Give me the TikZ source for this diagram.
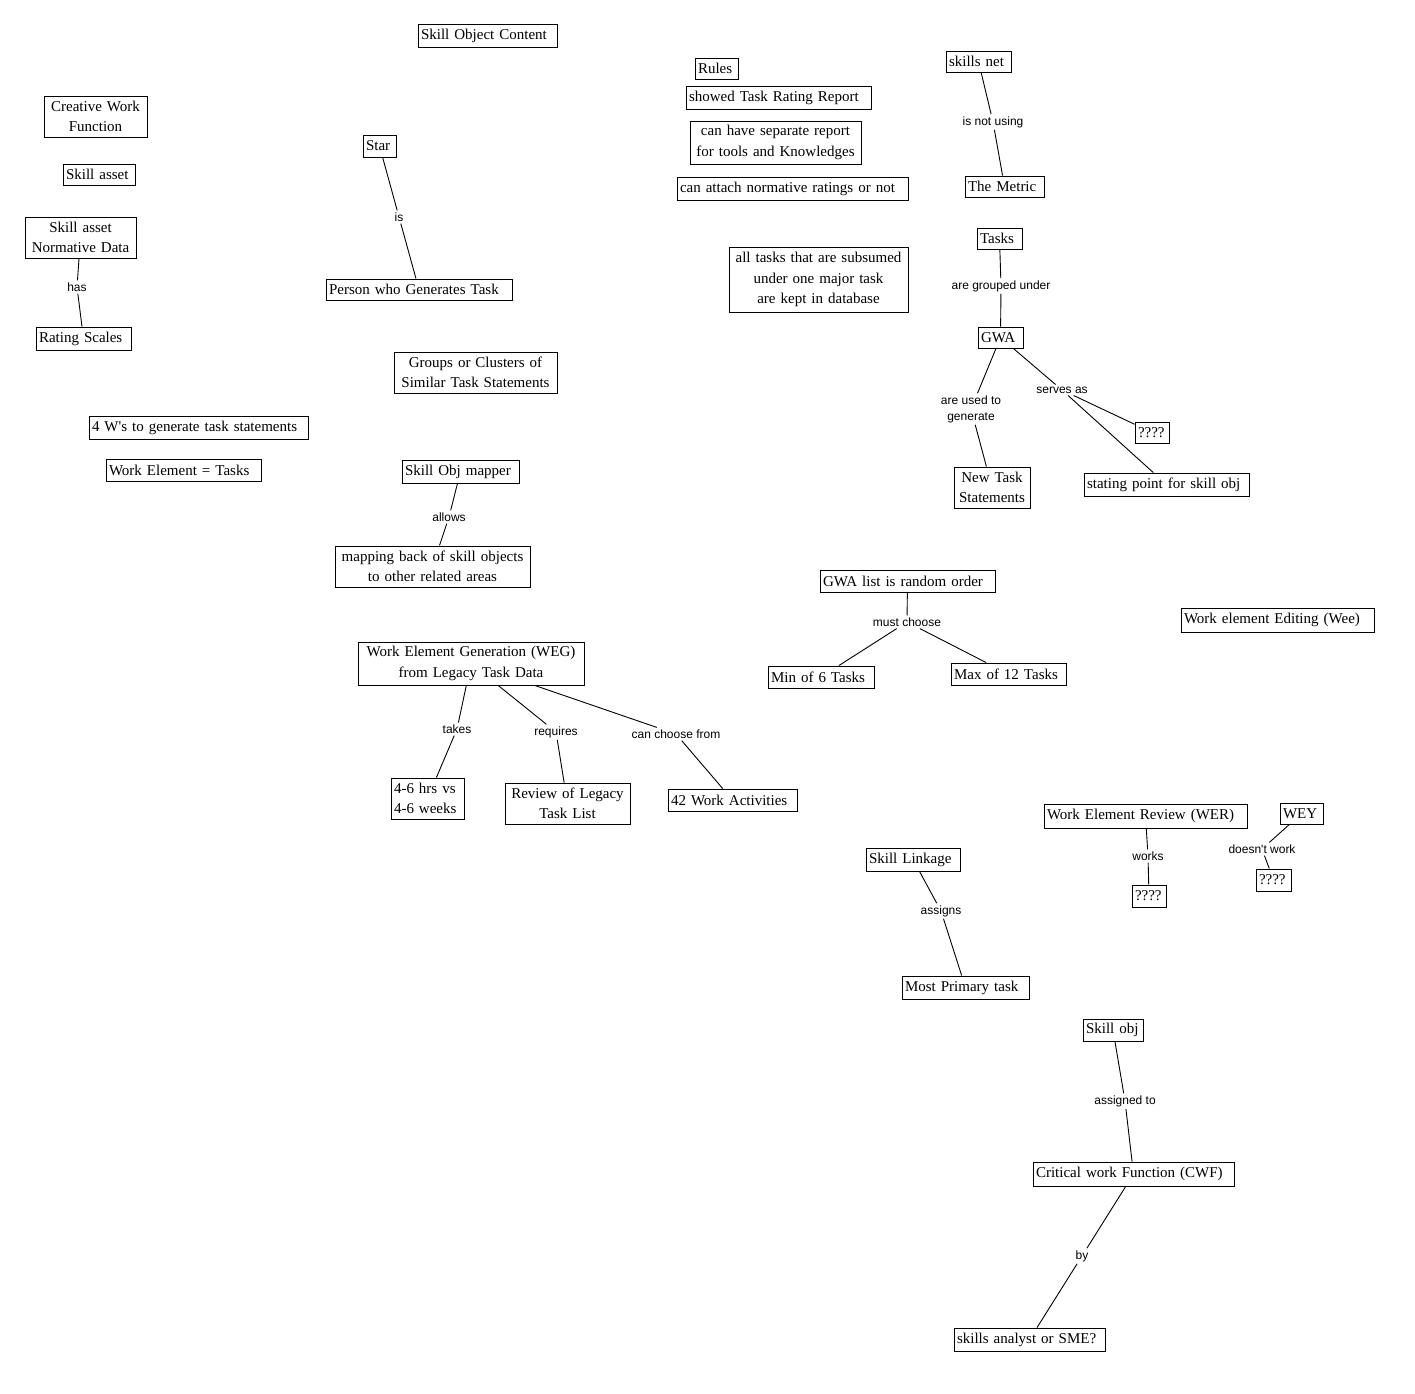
\documentclass[tikz,border=0pt]{standalone}
\usepackage{fontspec}
\newfontfamily\serfont{Liberation Serif}
\newfontfamily\labfont{Liberation Sans}
\begin{document}
\begin{tikzpicture}[x=1pt,y=-1pt,
  box/.style={draw=black, line width=0.9pt, inner xsep=3pt, inner ysep=2pt,
    font=\serfont\fontsize{15}{20.5}\selectfont, align=left},
  cbox/.style={box, align=center},
  lab/.style={inner sep=2pt, font=\labfont\fontsize{12}{16}\selectfont, align=center},
  conn/.style={draw=black, line width=0.9pt}]
\fill[white] (0,0) rectangle (1415,1393);
\useasboundingbox (0,0) rectangle (1415,1393);

% ---- boxes ----
\node[box, text width=133pt, minimum height=23pt] (soc) at (487.5,35.5) {Skill Object Content};
\node[cbox, text width=97pt, minimum height=41pt] (cwf) at (95.5,116.5) {Creative Work\\Function};
\node[box, text width=66pt, minimum height=21pt] (sa) at (99,174.5) {Skill asset};
\node[cbox, text width=105pt, minimum height=41pt] (sand) at (80.5,237.5) {Skill asset\\Normative Data};
\node[box, text width=89pt, minimum height=23pt] (rs) at (83.5,338.5) {Rating Scales};
\node[box, text width=213pt, minimum height=23pt] (fourw) at (198.5,427.5) {4 W's to generate task statements};
\node[box, text width=149pt, minimum height=22pt] (wet) at (183.5,470) {Work Element = Tasks};
\node[box, text width=27pt, minimum height=22pt] (star) at (379.5,146) {Star};
\node[box, text width=180pt, minimum height=21pt] (pgt) at (419,289.5) {Person who Generates Task};
\node[cbox, text width=157pt, minimum height=41pt] (gcs) at (475.5,372.5) {Groups or Clusters of\\Similar Task Statements};
\node[box, text width=111pt, minimum height=23pt] (som) at (460.5,471.5) {Skill Obj mapper};
\node[cbox, text width=189pt, minimum height=41pt] (mb) at (432.5,566.5) {mapping back of skill objects\\to other related areas};
\node[cbox, text width=220pt, minimum height=43pt] (weg) at (471,663.5) {Work Element Generation (WEG)\\from Legacy Task Data};
\node[box, text width=67pt, minimum height=41pt] (hrs) at (427.5,798.5) {4-6 hrs vs\\4-6 weeks};
\node[cbox, text width=119pt, minimum height=41pt] (rev) at (567.5,803.5) {Review of Legacy\\Task List};
\node[box, text width=123pt, minimum height=22pt] (wa) at (732.5,800) {42 Work Activities};
\node[box, text width=37pt, minimum height=21pt] (rules) at (716.5,68.5) {Rules};
\node[box, text width=179pt, minimum height=23pt] (str) at (778.5,97.5) {showed Task Rating Report};
\node[cbox, text width=165pt, minimum height=43pt] (chs) at (775.5,142.5) {can have separate report\\for tools and Knowledges};
\node[box, text width=225pt, minimum height=23pt] (cat) at (792.5,188.5) {can attach normative ratings or not};
\node[cbox, text width=173pt, minimum height=65pt] (all) at (818.5,279.5) {all tasks that are subsumed\\under one major task\\are kept in database};
\node[box, text width=59pt, minimum height=21pt] (sn) at (978.5,61.5) {skills net};
\node[box, text width=73pt, minimum height=21pt] (met) at (1004.5,186.5) {The Metric};
\node[box, text width=39pt, minimum height=21pt] (tasks) at (999.5,238.5) {Tasks};
\node[box, text width=39pt, minimum height=21pt] (gwa) at (1000.5,337.5) {GWA};
\node[box, text width=28pt, minimum height=21pt] (qa) at (1152,432.5) {????};
\node[cbox, text width=70pt, minimum height=41pt] (nts) at (992,487.5) {New Task\\Statements};
\node[box, text width=159pt, minimum height=23pt] (sp) at (1166.5,484.5) {stating point for skill obj};
\node[box, text width=169pt, minimum height=22pt] (gwal) at (907.5,581) {GWA list is random order};
\node[box, text width=100pt, minimum height=22pt] (min) at (821,677) {Min of 6 Tasks};
\node[box, text width=109pt, minimum height=22pt] (max) at (1008.5,674) {Max of 12 Tasks};
\node[box, text width=187pt, minimum height=24pt] (wee) at (1277.5,620) {Work element Editing (Wee)};
\node[box, text width=197pt, minimum height=24pt] (wer) at (1145.5,816) {Work Element Review (WER)};
\node[box, text width=28pt, minimum height=22pt] (qb) at (1149,896) {????};
\node[box, text width=37pt, minimum height=21pt] (wey) at (1301.5,813.5) {WEY};
\node[box, text width=29pt, minimum height=22pt] (qc) at (1273.5,880) {????};
\node[box, text width=88pt, minimum height=23pt] (sl) at (913,859.5) {Skill Linkage};
\node[box, text width=121pt, minimum height=23pt] (mpt) at (965.5,987.5) {Most Primary task};
\node[box, text width=54pt, minimum height=22pt] (so) at (1113,1030) {\mbox{Skill obj}};
\node[box, text width=195pt, minimum height=24pt] (cwfn) at (1133.5,1174) {Critical work Function (CWF)};
\node[box, text width=145pt, minimum height=23pt] (san) at (1029.5,1339.5) {skills analyst or SME?};

% ---- link labels ----
\node[lab] (has) at (77,287) {has};
\node[lab] (is) at (399,217) {is};
\node[lab] (allows) at (449,517) {allows};
\node[lab] (takes) at (457,729) {takes};
\node[lab] (requires) at (556,732) {requires};
\node[lab] (choose) at (676,734) {can choose from};
\node[lab] (notusing) at (993,122) {is not using};
\node[lab] (grouped) at (1001,286) {are grouped under};
\node[lab] (usedto) at (971,409) {are used to\\generate};
\node[lab] (serves) at (1062,390) {serves as};
\node[lab] (must) at (907,622) {must choose};
\node[lab] (works) at (1148,856) {works};
\node[lab] (doesnt) at (1262,849) {doesn't work};
\node[lab] (assigns) at (941,911) {assigns};
\node[lab] (assigned) at (1125,1101) {assigned to};
\node[lab] (by) at (1082,1256) {by};

% ---- connectors ----
\draw[conn] (sand) -- (has);  \draw[conn] (has) -- (rs);
\draw[conn] (star) -- (is);   \draw[conn] (is) -- (pgt);
\draw[conn] (som) -- (allows); \draw[conn] (allows) -- (mb);
\draw[conn] (weg) -- (takes); \draw[conn] (takes) -- (hrs);
\draw[conn] (weg) -- (requires); \draw[conn] (requires) -- (rev);
\draw[conn] (weg) -- (choose); \draw[conn] (choose) -- (wa);
\draw[conn] (sn) -- (notusing); \draw[conn] (notusing) -- (met);
\draw[conn] (tasks) -- (grouped); \draw[conn] (grouped) -- (gwa);
\draw[conn] (gwa) -- (usedto); \draw[conn] (usedto) -- (nts);
\draw[conn] (gwa) -- (serves); \draw[conn] (serves) -- (qa); \draw[conn] (serves) -- (sp);
\draw[conn] (gwal) -- (must); \draw[conn] (must) -- (min); \draw[conn] (must) -- (max);
\draw[conn] (wer) -- (works); \draw[conn] (works) -- (qb);
\draw[conn] (wey) -- (doesnt); \draw[conn] (doesnt) -- (qc);
\draw[conn] (sl) -- (assigns); \draw[conn] (assigns) -- (mpt);
\draw[conn] (so) -- (assigned); \draw[conn] (assigned) -- (cwfn);
\draw[conn] (cwfn) -- (by); \draw[conn] (by) -- (san);
\end{tikzpicture}
\end{document}
